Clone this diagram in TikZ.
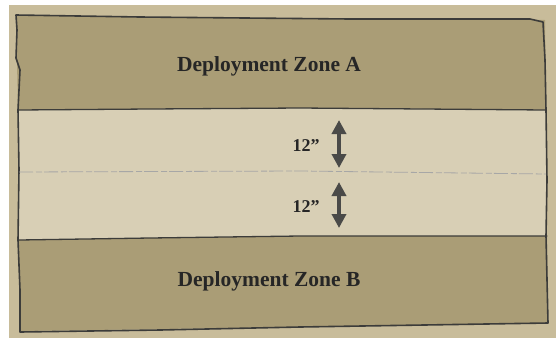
\documentclass[tikz,border=0pt]{standalone}
\usepackage{fontspec}
\setmainfont{Liberation Serif}
\usetikzlibrary{arrows.meta}
\definecolor{parch}{HTML}{C8BC9A}
\definecolor{zonedark}{HTML}{AA9D76}
\definecolor{zonelight}{HTML}{D8CFB5}
\definecolor{inkline}{HTML}{3C3C3A}
\definecolor{arrowgray}{HTML}{4A4A48}
\tikzset{
  zonelabel/.style={font=\bfseries\fontsize{21.5}{24}\selectfont, text=black!85},
  distlabel/.style={font=\bfseries\fontsize{18}{21}\selectfont, text=black!85},
  border/.style={draw=inkline, line width=1.6pt, line join=round, line cap=round},
  midline/.style={draw=inkline!45, line width=0.8pt, dash pattern=on 14pt off 3pt on 6pt off 2pt},
  distarrow/.style={draw=arrowgray, line width=4pt, {Triangle[width=14pt,length=14pt]}-{Triangle[width=14pt,length=14pt]}}
}
\begin{document}
\begin{tikzpicture}[x=1pt,y=-1pt]
\useasboundingbox (0,0) rectangle (556,338);
\fill[white] (0,0) rectangle (556,338);
\fill[parch] (9,5) rectangle (556,338);
% zone A
\fill[zonedark] (16,15) -- (140,17) -- (545,20) -- (546,110) -- (300,108) -- (18,110) -- cycle;
% light middle
\fill[zonelight] (18,110) -- (300,108) -- (546,110) -- (547,236) -- (300,236) -- (19,240) -- cycle;
% zone B
\fill[zonedark] (19,240) -- (300,236) -- (547,236) -- (548,323) -- (300,327) -- (20,331) -- cycle;
% outer border
\draw[border] (16,15) -- (140,17) -- (350,19) -- (530,19) -- (543,22) -- (545,60) -- (546,110) -- (547,180) -- (546,236) -- (548,323) -- (300,327) -- (160,330) -- (20,332) -- (20,290) -- (18,240) -- (19,170) -- (18,110) -- (20,70) -- (16,58) -- (17,30) -- cycle;
% zone lines
\draw[border, line width=1.3pt] (18,110) -- (150,109) -- (300,108) -- (546,110);
\draw[border, line width=1.3pt] (19,240) -- (150,238) -- (300,236) -- (547,236);
\draw[midline] (19,172) -- (300,171) -- (546,174);
% labels
\node[zonelabel] (za) at (269,66) {Deployment Zone A};
\node[zonelabel] (zb) at (269,281) {Deployment Zone B};
\node[distlabel] (d1) at (306,146) {12"};
\node[distlabel] (d2) at (306,207) {12"};
\coordinate (a1t) at (339,120);
\coordinate (a1b) at (339,168);
\coordinate (a2t) at (339,182);
\coordinate (a2b) at (339,228);
\draw[distarrow] (a1t) -- (a1b);
\draw[distarrow] (a2t) -- (a2b);
\end{tikzpicture}
\end{document}
